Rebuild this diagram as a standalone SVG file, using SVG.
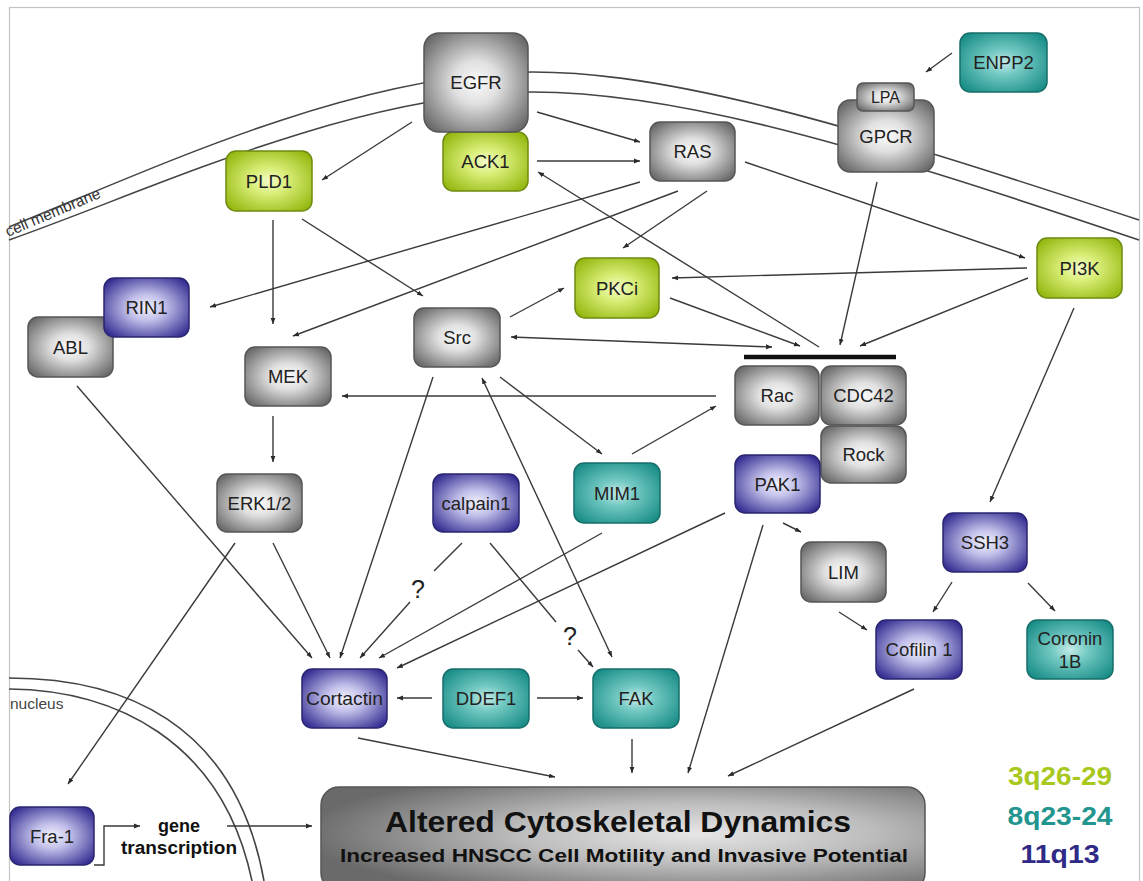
<svg xmlns="http://www.w3.org/2000/svg" width="1143" height="881" viewBox="0 0 1143 881">
<style>
.lbl{font-family:"Liberation Sans",Arial,sans-serif;font-size:18.5px;fill:#222;text-anchor:middle}
.c{fill:none;stroke:#3a3a3a;stroke-width:1.4}
.mem{fill:none;stroke:#444;stroke-width:1.6}
.g{fill:url(#gGray);stroke:#555;stroke-width:1.5}
.y{fill:url(#gGreen);stroke:#6f8a10;stroke-width:1.5}
.t{fill:url(#gTeal);stroke:#166e6a;stroke-width:1.5}
.p{fill:url(#gPurple);stroke:#2a2570;stroke-width:1.5}
.q{font-family:"Liberation Sans",Arial,sans-serif;font-size:25px;fill:#222;text-anchor:middle}
.leg{font-family:"Liberation Sans",Arial,sans-serif;font-size:25px;font-weight:bold;text-anchor:middle}
</style>
<defs>
<radialGradient id="gGray" cx="50%" cy="50%" r="62%"><stop offset="0" stop-color="#fafafa"/><stop offset="0.35" stop-color="#e0e0e0"/><stop offset="1" stop-color="#6c6c6c"/></radialGradient>
<radialGradient id="gGreen" cx="50%" cy="50%" r="62%"><stop offset="0" stop-color="#f2fac8"/><stop offset="0.35" stop-color="#d9ee78"/><stop offset="1" stop-color="#96b912"/></radialGradient>
<radialGradient id="gTeal" cx="50%" cy="50%" r="62%"><stop offset="0" stop-color="#c4ebe8"/><stop offset="0.35" stop-color="#72c8c2"/><stop offset="1" stop-color="#1b8e88"/></radialGradient>
<radialGradient id="gPurple" cx="50%" cy="50%" r="62%"><stop offset="0" stop-color="#f2f2fc"/><stop offset="0.35" stop-color="#c2c0ea"/><stop offset="1" stop-color="#383194"/></radialGradient>
<radialGradient id="gBig" cx="62%" cy="45%" r="65%"><stop offset="0" stop-color="#e6e6e6"/><stop offset="0.45" stop-color="#bdbdbd"/><stop offset="1" stop-color="#6a6a6a"/></radialGradient>
<marker id="ah" viewBox="0 0 6 6" refX="6" refY="3" markerWidth="6" markerHeight="6" markerUnits="userSpaceOnUse" orient="auto-start-reverse"><path d="M0,0.6 L6,3 L0,5.4 z" fill="#2a2a2a"/></marker>
</defs>
<rect x="0" y="0" width="1143" height="881" fill="#fff"/>
<rect x="9.5" y="7.5" width="1130" height="900" fill="none" stroke="#c4c4c4" stroke-width="1.2"/>

<g id="membranes">
<path class="mem" d="M9,227 C150,170 330,85 500,73 C650,63 850,125 1139,220"/>
<path class="mem" d="M9,240 C150,190 330,105 500,93 C650,83 850,142 1139,240"/>
<text transform="translate(8,237) rotate(-23)" font-family="Liberation Sans,Arial,sans-serif" font-size="15.5" fill="#333">cell membrane</text>
<path class="mem" d="M9,678 C120,678 235,720 264,881"/>
<path class="mem" d="M9,689 C112,690 222,738 252,881"/>
<text x="10" y="709" font-family="Liberation Sans,Arial,sans-serif" font-size="15.5" fill="#444">nucleus</text>
</g>

<g id="connectors" marker-end="url(#ah)">
<line class="c" x1="412" y1="122" x2="322" y2="180"/>
<line class="c" x1="537" y1="112" x2="640" y2="142"/>
<line class="c" x1="537" y1="161" x2="640" y2="161"/>
<line class="c" x1="819" y1="347" x2="538" y2="172"/>
<line class="c" x1="745" y1="162" x2="1025" y2="258"/>
<line class="c" x1="952" y1="53" x2="926" y2="72"/>
<line class="c" x1="640" y1="182" x2="210" y2="307"/>
<line class="c" x1="678" y1="191" x2="293" y2="336"/>
<line class="c" x1="707" y1="191" x2="623" y2="248"/>
<line class="c" x1="273" y1="220" x2="273" y2="324"/>
<line class="c" x1="302" y1="219" x2="423" y2="296"/>
<line class="c" x1="1027" y1="268" x2="672" y2="278"/>
<line class="c" x1="1028" y1="278" x2="860" y2="346"/>
<line class="c" x1="877" y1="182" x2="840" y2="345"/>
<line class="c" x1="670" y1="298" x2="800" y2="346"/>
<line class="c" x1="511" y1="337" x2="772" y2="347" marker-start="url(#ah)"/>
<line class="c" x1="510" y1="317" x2="564" y2="288"/>
<line class="c" x1="716" y1="396" x2="342" y2="396"/>
<line class="c" x1="273" y1="416" x2="273" y2="462"/>
<line class="c" x1="500" y1="377" x2="602" y2="454"/>
<line class="c" x1="632" y1="454" x2="716" y2="406"/>
<line class="c" x1="77" y1="386" x2="312" y2="658"/>
<line class="c" x1="273" y1="543" x2="330" y2="658"/>
<line class="c" x1="235" y1="543" x2="68" y2="784"/>
<line class="c" x1="433" y1="377" x2="340" y2="658"/>
<line class="c" x1="462" y1="543" x2="434" y2="571" marker-end="none"/>
<line class="c" x1="410" y1="602" x2="360" y2="658"/>
<line class="c" x1="490" y1="543" x2="556" y2="622" marker-end="none"/>
<line class="c" x1="578" y1="650" x2="593" y2="667"/>
<line class="c" x1="482" y1="378" x2="612" y2="657" marker-start="url(#ah)"/>
<line class="c" x1="602" y1="533" x2="379" y2="658"/>
<line class="c" x1="725" y1="513" x2="397" y2="668"/>
<line class="c" x1="783" y1="523" x2="801" y2="532"/>
<line class="c" x1="763" y1="525" x2="688" y2="773"/>
<line class="c" x1="839" y1="612" x2="867" y2="630"/>
<line class="c" x1="952" y1="582" x2="933" y2="612"/>
<line class="c" x1="1028" y1="583" x2="1055" y2="611"/>
<line class="c" x1="1074" y1="308" x2="990" y2="502"/>
<line class="c" x1="914" y1="689" x2="728" y2="776"/>
<line class="c" x1="358" y1="738" x2="555" y2="777"/>
<line class="c" x1="632" y1="739" x2="632" y2="773"/>
<line class="c" x1="432" y1="698" x2="397" y2="698"/>
<line class="c" x1="537" y1="698" x2="583" y2="698"/>
<path class="c" d="M94,865 H104 V826 H140"/>
<line class="c" x1="227" y1="826" x2="312" y2="826"/>
<line x1="744" y1="357" x2="896" y2="357" stroke="#111" stroke-width="4.5" marker-end="none"/>
</g>
<text class="q" x="418" y="598">?</text>
<text class="q" x="570" y="645">?</text>

<g id="ACK1"><rect class="y" x="443" y="132" width="85" height="59" rx="10"/><text class="lbl" x="485.5" y="168">ACK1</text></g>
<g id="EGFR"><rect class="g" x="424" y="33" width="104" height="99" rx="15"/><text class="lbl" x="476" y="89">EGFR</text></g>
<g id="RAS"><rect class="g" x="650" y="122" width="85" height="59" rx="10"/><text class="lbl" x="692.5" y="158">RAS</text></g>
<g id="PLD1"><rect class="y" x="226" y="151" width="86" height="60" rx="10"/><text class="lbl" x="269" y="188">PLD1</text></g>
<g id="GPCR"><rect class="g" x="838" y="100" width="96" height="72" rx="12"/><text class="lbl" x="886" y="143">GPCR</text></g>
<g id="LPA"><rect class="g" x="857" y="83" width="57" height="28" rx="6"/><text class="lbl" x="885.5" y="103" style="font-size:16px">LPA</text></g>
<g id="ENPP2"><rect class="t" x="960" y="33" width="87" height="59" rx="10"/><text class="lbl" x="1003.5" y="69">ENPP2</text></g>
<g id="PI3K"><rect class="y" x="1037" y="238" width="85" height="60" rx="10"/><text class="lbl" x="1079.5" y="275">PI3K</text></g>
<g id="ABL"><rect class="g" x="28" y="317" width="85" height="60" rx="10"/><text class="lbl" x="70.5" y="354">ABL</text></g>
<g id="RIN1"><rect class="p" x="104" y="278" width="85" height="59" rx="10"/><text class="lbl" x="146.5" y="314">RIN1</text></g>
<g id="PKCi"><rect class="y" x="575" y="258" width="84" height="60" rx="10"/><text class="lbl" x="617" y="295">PKCi</text></g>
<g id="Src"><rect class="g" x="414" y="308" width="86" height="59" rx="10"/><text class="lbl" x="457" y="344">Src</text></g>
<g id="MEK"><rect class="g" x="245" y="347" width="86" height="59" rx="10"/><text class="lbl" x="288" y="383">MEK</text></g>
<g id="Rac"><rect class="g" x="735" y="366" width="84" height="59" rx="10"/><text class="lbl" x="777" y="402">Rac</text></g>
<g id="CDC42"><rect class="g" x="821" y="366" width="85" height="59" rx="10"/><text class="lbl" x="863.5" y="402">CDC42</text></g>
<g id="Rock"><rect class="g" x="821" y="426" width="85" height="57" rx="10"/><text class="lbl" x="863.5" y="461">Rock</text></g>
<g id="PAK1"><rect class="p" x="735" y="455" width="85" height="58" rx="10"/><text class="lbl" x="777.5" y="491">PAK1</text></g>
<g id="ERK12"><rect class="g" x="217" y="474" width="85" height="58" rx="10"/><text class="lbl" x="259.5" y="510">ERK1/2</text></g>
<g id="calpain1"><rect class="p" x="433" y="474" width="86" height="58" rx="10"/><text class="lbl" x="476" y="510">calpain1</text></g>
<g id="MIM1"><rect class="t" x="574" y="463" width="86" height="60" rx="10"/><text class="lbl" x="617" y="500">MIM1</text></g>
<g id="SSH3"><rect class="p" x="943" y="513" width="84" height="59" rx="10"/><text class="lbl" x="985" y="549">SSH3</text></g>
<g id="LIM"><rect class="g" x="801" y="542" width="85" height="60" rx="10"/><text class="lbl" x="843.5" y="579">LIM</text></g>
<g id="Cofilin1"><rect class="p" x="876" y="620" width="86" height="59" rx="10"/><text class="lbl" x="919" y="656">Cofilin 1</text></g>
<g id="Coronin1B"><rect class="t" x="1027" y="620" width="86" height="59" rx="10"/><text class="lbl" x="1070" y="645">Coronin</text><text class="lbl" x="1070" y="668">1B</text></g>
<g id="Cortactin"><rect class="p" x="302" y="669" width="85" height="59" rx="10"/><text class="lbl" x="344.5" y="705" textLength="77" lengthAdjust="spacingAndGlyphs">Cortactin</text></g>
<g id="DDEF1"><rect class="t" x="443" y="669" width="86" height="59" rx="10"/><text class="lbl" x="486" y="705">DDEF1</text></g>
<g id="FAK"><rect class="t" x="593" y="669" width="86" height="59" rx="10"/><text class="lbl" x="636" y="705">FAK</text></g>
<g id="Fra1"><rect class="p" x="10" y="807" width="84" height="58" rx="10"/><text class="lbl" x="52" y="843">Fra-1</text></g>
<g id="gene"><text x="179" y="832" font-family="Liberation Sans,Arial,sans-serif" font-size="18" font-weight="bold" fill="#111" text-anchor="middle">gene</text><text x="179" y="854" font-family="Liberation Sans,Arial,sans-serif" font-size="18" font-weight="bold" fill="#111" text-anchor="middle" textLength="116" lengthAdjust="spacingAndGlyphs">transcription</text></g>
<g id="outcome"><rect x="321" y="787" width="604" height="104" rx="18" fill="url(#gBig)" stroke="#555" stroke-width="1.5"/>
<text x="618" y="832" font-family="Liberation Sans,Arial,sans-serif" font-size="29" font-weight="bold" fill="#111" text-anchor="middle" textLength="466" lengthAdjust="spacingAndGlyphs">Altered Cytoskeletal Dynamics</text>
<text x="624" y="862" font-family="Liberation Sans,Arial,sans-serif" font-size="19" font-weight="bold" fill="#111" text-anchor="middle" textLength="568" lengthAdjust="spacingAndGlyphs">Increased HNSCC Cell Motility and Invasive Potential</text></g>
<g id="legend">
<text class="leg" x="1060" y="785" fill="#a8c81e" textLength="104" lengthAdjust="spacingAndGlyphs">3q26-29</text>
<text class="leg" x="1060" y="825" fill="#23958f" textLength="105" lengthAdjust="spacingAndGlyphs">8q23-24</text>
<text class="leg" x="1060" y="863" fill="#2e2a86" textLength="79" lengthAdjust="spacingAndGlyphs">11q13</text>
</g>
</svg>
